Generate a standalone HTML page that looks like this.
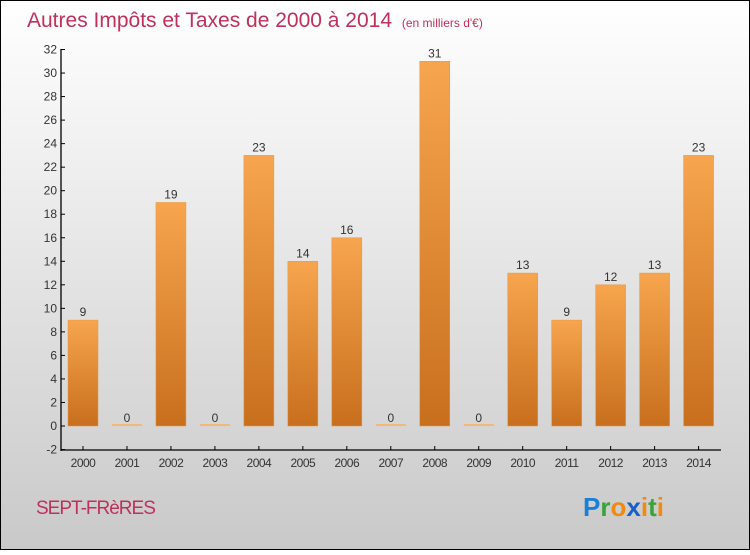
<!DOCTYPE html>
<html><head><meta charset="utf-8"><style>
body{margin:0}
#c{width:750px;height:550px;position:relative;font-family:"Liberation Sans",sans-serif}
</style></head><body>
<div id="c">
<svg width="750" height="550" xmlns="http://www.w3.org/2000/svg">
<defs>
<linearGradient id="bg" x1="0" y1="0" x2="0" y2="1"><stop offset="0" stop-color="#ffffff"/><stop offset="1" stop-color="#c9c9c9"/></linearGradient>
<linearGradient id="bar" x1="0" y1="0" x2="0" y2="1"><stop offset="0" stop-color="#f7a54e"/><stop offset="1" stop-color="#c86f1d"/></linearGradient>
</defs>
<rect x="0.5" y="0.5" width="749" height="549" fill="url(#bg)" stroke="#000"/>
<text x="27" y="27" font-size="21" fill="#c0305c">Autres Impôts et Taxes de 2000 à 2014 <tspan font-size="12" dx="4">(en milliers d'€)</tspan></text>
<g id="yax"></g>
<g id="xax"></g>
<g id="bars"></g>
<text x="36" y="514" font-size="19" fill="#c0305c" letter-spacing="-1">SEPT-FRèRES</text>
<g font-size="26" font-weight="bold" font-family="'Liberation Sans',sans-serif">
<text x="583" y="516"><tspan fill="#1a7fd6">P</tspan><tspan fill="#3aa33a">r</tspan><tspan fill="#f08a10">o</tspan><tspan fill="#1a5fc6">x</tspan><tspan fill="#f08a10">i</tspan><tspan fill="#3aa33a">t</tspan><tspan fill="#f08a10">i</tspan></text>
</g>
</svg>
</div>
<script>
const years=["2000","2001","2002","2003","2004","2005","2006","2007","2008","2009","2010","2011","2012","2013","2014"];
const values=[9,0,19,0,23,14,16,0,31,0,13,9,12,13,23];
const yTicks=[-2,0,2,4,6,8,10,12,14,16,18,20,22,24,26,28,30,32];
const NS="http://www.w3.org/2000/svg";
const y=v=>426-(v)*11.765;
const x=i=>83+i*43.97;
function mk(t,a,p){const e=document.createElementNS(NS,t);for(const k in a)e.setAttribute(k,a[k]);p.appendChild(e);return e;}
const ya=document.getElementById('yax'),xa=document.getElementById('xax'),bg=document.getElementById('bars');
mk('line',{x1:61,y1:49,x2:61,y2:451,stroke:'#000','stroke-width':1.3},ya);
mk('line',{x1:61,y1:450,x2:721,y2:450,stroke:'#000','stroke-width':1.3},xa);
yTicks.forEach(v=>{
 const l=mk('line',{x1:61,y1:y(v),x2:65,y2:y(v),stroke:'#000'},ya);
 
 
 const t=mk('text',{x:57,y:y(v)+4,'font-size':12,fill:'#333','text-anchor':'end'},ya);
 
 
 t.textContent=v;
});
years.forEach((yr,i)=>{
 const l=mk('line',{x1:x(i),y1:446,x2:x(i),y2:450,stroke:'#000'},xa);
 
 
 const t=mk('text',{x:x(i),y:467,'font-size':12,fill:'#333','text-anchor':'middle','letter-spacing':'-0.5'},xa);
 
 
 t.textContent=yr;
 const v=values[i];
 let r;
 if(v===0){r=mk('rect',{x:x(i)-15,y:y(0)-2,width:30,height:2,fill:'#f2b77a'},bg);}
 else{r=mk('rect',{x:x(i)-15,y:y(v),width:30,height:y(0)-y(v),fill:'url(#bar)',stroke:'#e8963f','stroke-width':0.5},bg);}
 
 
 const lb=mk('text',{x:x(i),y:y(v)-4,'font-size':12,fill:'#333','text-anchor':'middle'},bg);
 
 
 lb.textContent=v;
});
</script>
</body></html>
